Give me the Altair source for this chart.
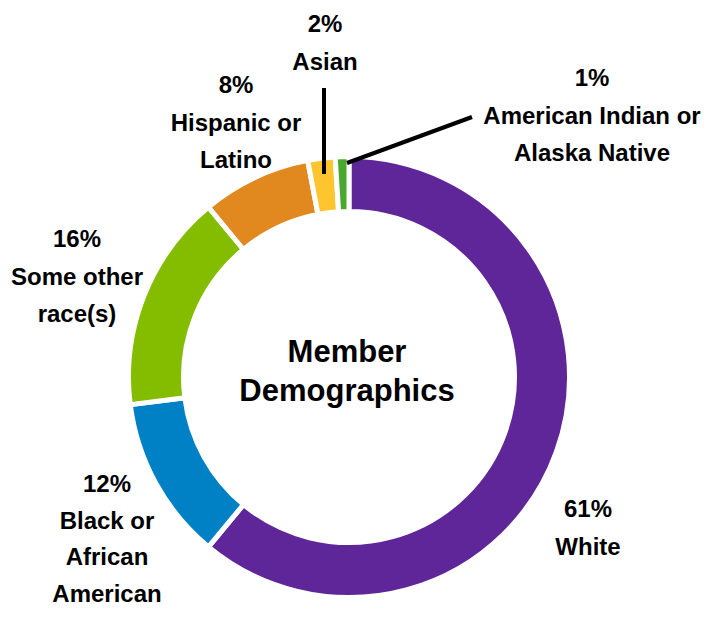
import altair as alt
import pandas as pd

# ---- data ----
categories = ["White", "Black or African American", "Some other race(s)",
              "Hispanic or Latino", "Asian", "American Indian or Alaska Native"]
percents = [61, 12, 16, 8, 2, 1]
label_names = ["White", "Black or\nAfrican\nAmerican", "Some other\nrace(s)",
               "Hispanic or\nLatino", "Asian", "American Indian or\nAlaska Native"]
colors = ["#5F2699", "#0081C6", "#84BC00", "#E1891F", "#FFC52F", "#4BA82E"]
center_title = "Member\nDemographics"

# ---- layout (page pixel coordinates, shifted by the 8px page margin) ----
M = 8
W, H = 693, 602
CX, CY = 349 - M, 377 - M
label_pos = [(588, 517), (107, 492), (77, 247), (236, 93), (325, 32), (592, 86)]
line_heights = [37.5, 36.5, 37.5, 37.5, 37.5, 37.5]
leaders = [((324, 88), (324, 174)), ((347, 163), (472, 117))]

df = pd.DataFrame({
    "category": categories,
    "pct": percents,
    "order": list(range(len(categories))),
    "label": [f"{p}%\n{n}" for p, n in zip(percents, label_names)],
    "lx": [p[0] - M for p in label_pos],
    "ly": [p[1] - M for p in label_pos],
})

color_scale = alt.Scale(domain=categories, range=colors)

arcs = alt.Chart(df).mark_arc(
    outerRadius=220.5, innerRadius=165.5, stroke="white", strokeWidth=5
).encode(
    theta=alt.Theta("pct:Q", stack=True),
    order=alt.Order("order:Q"),
    color=alt.Color("category:N", scale=color_scale, legend=None),
    x=alt.value(CX),
    y=alt.value(CY),
)

label_layers = []
for i, lh in enumerate(line_heights):
    label_layers.append(
        alt.Chart(df.iloc[[i]]).mark_text(
            font="Liberation Sans", fontWeight="bold", fontSize=24, color="black",
            align="center", baseline="alphabetic", lineBreak="\n", lineHeight=lh
        ).encode(
            x=alt.X("lx:Q", scale=None),
            y=alt.Y("ly:Q", scale=None),
            text="label:N",
        )
    )

lead_df = pd.DataFrame({
    "x1": [a[0] - M for a, b in leaders],
    "y1": [a[1] - M for a, b in leaders],
    "x2": [b[0] - M for a, b in leaders],
    "y2": [b[1] - M for a, b in leaders],
})
lines = alt.Chart(lead_df).mark_rule(color="black", strokeWidth=4).encode(
    x=alt.X("x1:Q", scale=None), y=alt.Y("y1:Q", scale=None),
    x2="x2:Q", y2="y2:Q",
)

title_df = pd.DataFrame({"t": [center_title]})
title = alt.Chart(title_df).mark_text(
    font="Liberation Sans", fontWeight="bold", fontSize=31, color="black",
    align="center", baseline="alphabetic", lineBreak="\n", lineHeight=39
).encode(
    text="t:N",
    x=alt.value(347 - M),
    y=alt.value(362 - M),
)

chart = alt.layer(arcs, lines, *label_layers, title).properties(
    width=W, height=H,
    autosize=alt.AutoSizeParams(type="none"),
    padding=0,
).configure_view(stroke=None)

chart.save("out.html", embed_options={"renderer": "svg", "actions": False})
